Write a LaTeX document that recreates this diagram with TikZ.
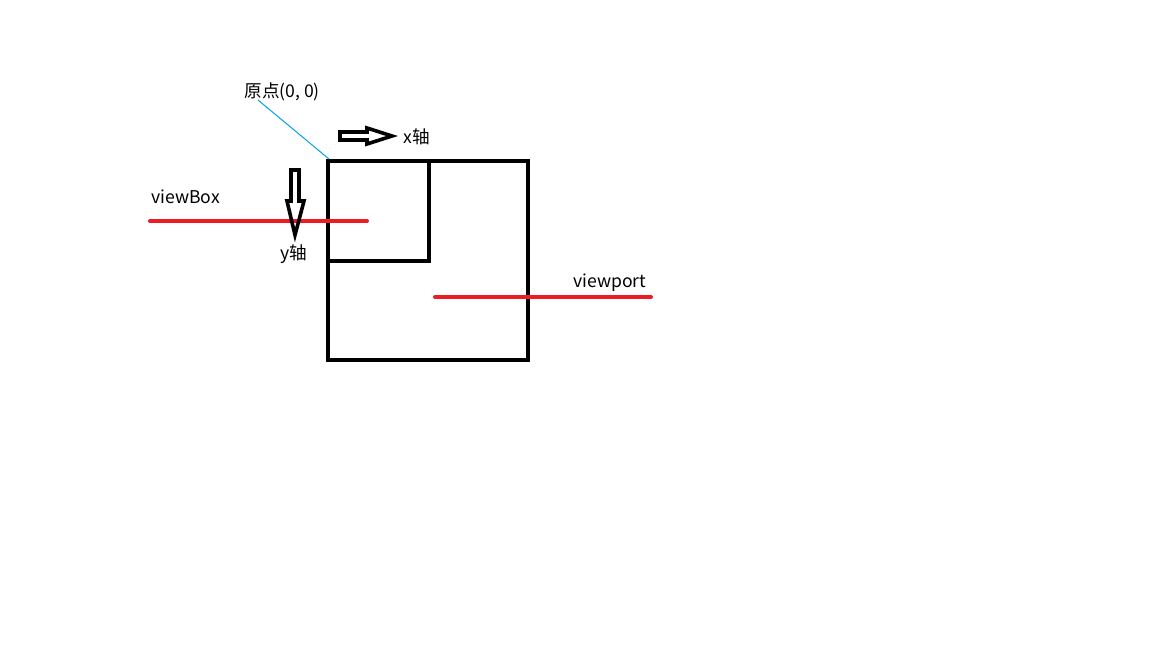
\documentclass[tikz,border=0pt]{standalone}
\usepackage{fontspec}
\setmainfont{Noto Sans CJK SC}
\begin{document}
\begin{tikzpicture}[x=0.5pt,y=-0.5pt,
  box/.style={line width=2pt,draw=black},
  redline/.style={line width=2pt,draw=redc,line cap=round},
  hollow/.style={line width=1.8pt,draw=black,line join=miter},
  lbl/.style={font=\fontsize{8.8pt}{10pt}\selectfont,text=black,inner sep=0pt,anchor=base west}]
\definecolor{redc}{HTML}{ED1C24}
\definecolor{bluec}{HTML}{00A2E8}
\useasboundingbox[fill=white] (0,0) rectangle (1152,648);
% boxes
\draw[box] (328,161) rectangle (528,360);
\draw[box] (328,161) -- (429,161) -- (429,261) -- (328,261);
% red lines
\draw[redline] (150,221) -- (367,221);
\draw[redline] (435,297) -- (651,297);
% labels
\node[lbl] (origin) at (244,97) {原点(0, 0)};
\node[lbl] (vb) at (151,203) {viewBox};
\node[lbl] (vp) at (573,287) {viewport};
\node[lbl] (xl) at (403,143) {x轴};
\node[lbl] (yl) at (280,259) {y轴};
\coordinate (corner) at (329,159);
\draw[bluec,line width=0.5pt] (258,100) -- (corner);
% hollow arrows
\draw[hollow] (340,132) -- (367,132) -- (367,128) -- (392,136) -- (367,144) -- (367,140) -- (340,140) -- cycle;
\draw[hollow] (291,170) -- (299,170) -- (299,201) -- (304,201) -- (295,235) -- (287,201) -- (291,201) -- cycle;
\end{tikzpicture}
\end{document}
